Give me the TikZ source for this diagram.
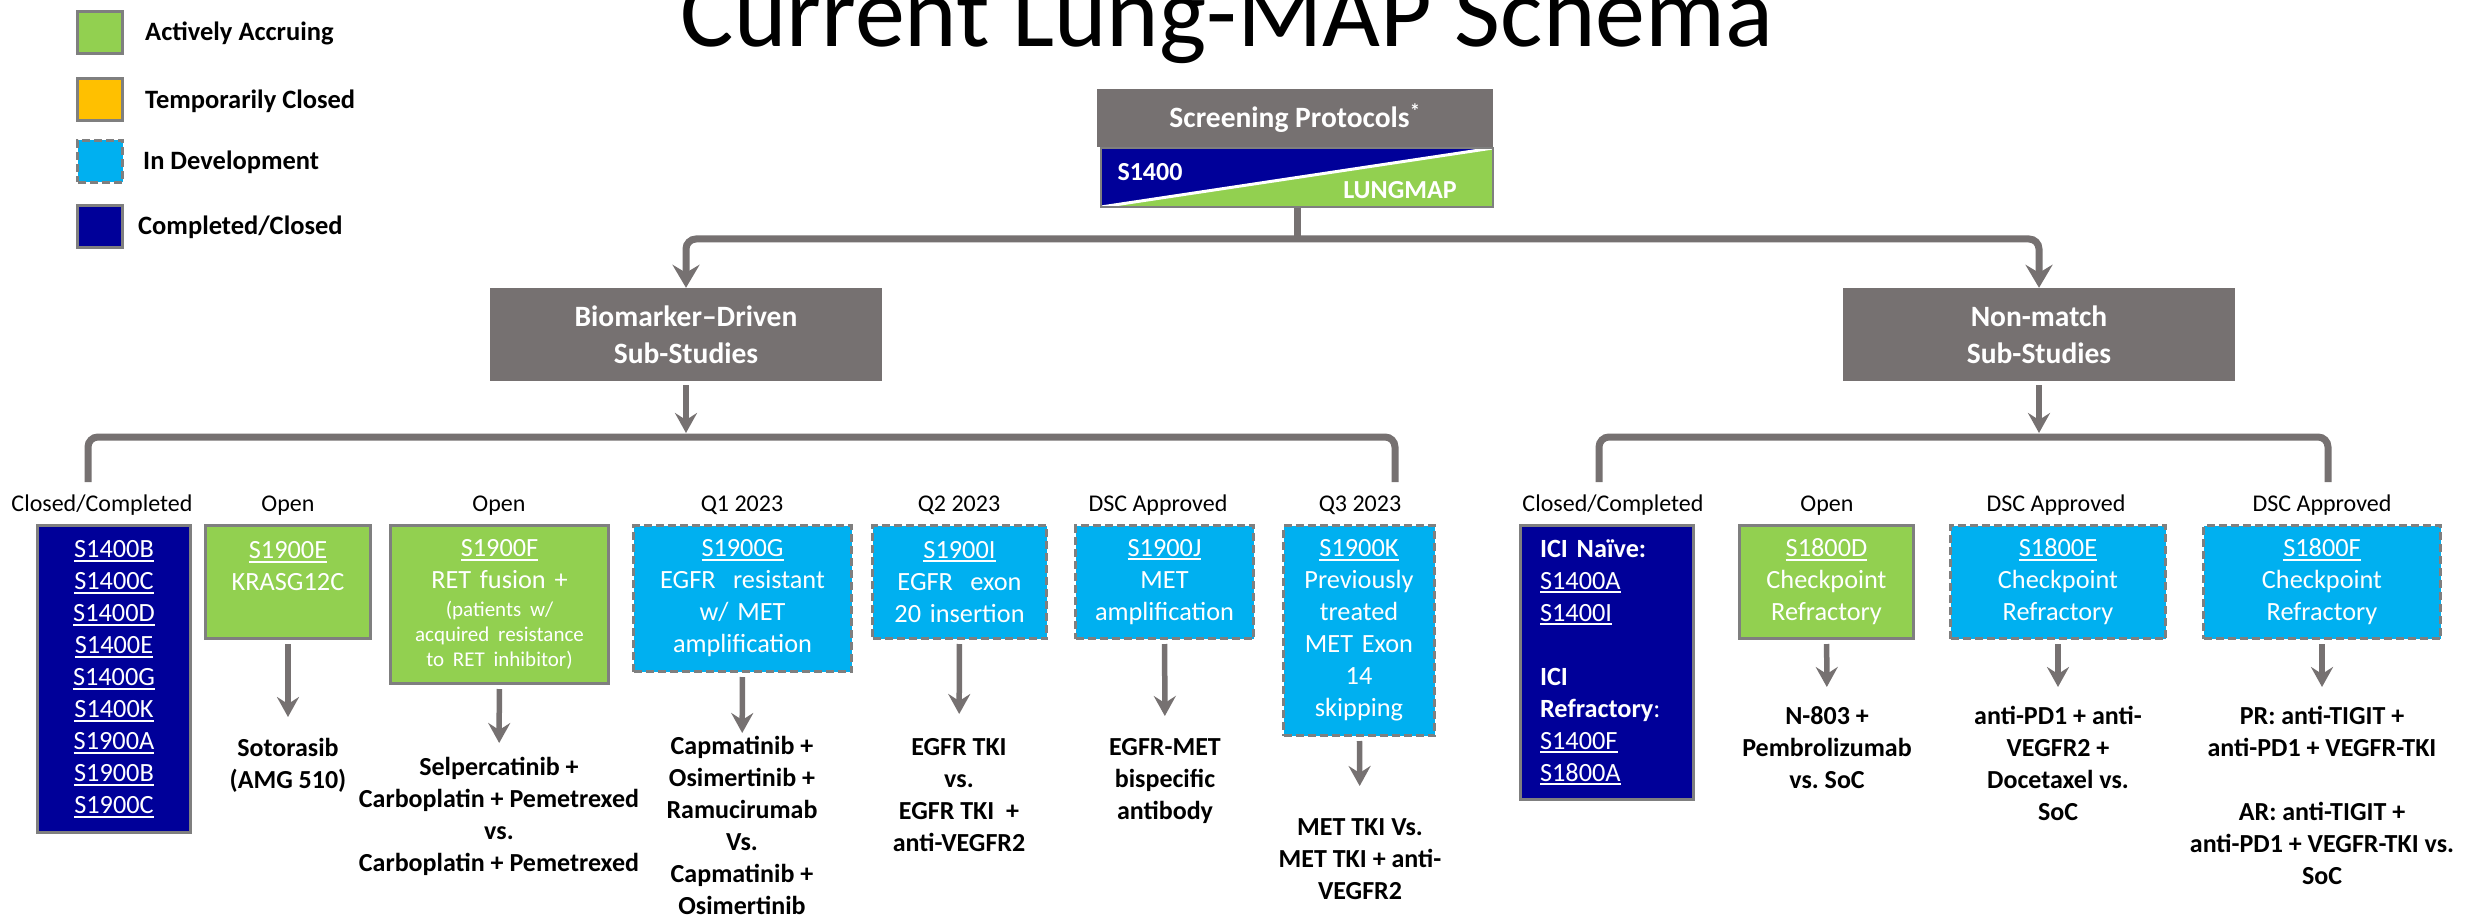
\documentclass[tikz,border=0pt]{standalone}
\usepackage{fontspec}
\setmainfont{Carlito}
\usetikzlibrary{arrows.meta, positioning}
\definecolor{grigio}{HTML}{767171}
\definecolor{bordo}{HTML}{7F7F7F}
\definecolor{blu}{HTML}{000099}
\definecolor{verde}{HTML}{92D050}
\definecolor{ciano}{HTML}{00B0F0}
\definecolor{arancio}{HTML}{FFC000}
\newcommand{\codice}[1]{\leavevmode\setbox0\hbox{#1}\rlap{\rule[-4pt]{\wd0}{2pt}}\box0}
\frenchspacing

\begin{document}
\begin{tikzpicture}[
  x=1pt, y=-1pt,
  titolo/.style={anchor=base, inner sep=0, font=\fontsize{100}{120}\selectfont},
  testata/.style={fill=grigio, text=white, align=center, inner sep=0,
                  font=\bfseries\fontsize{29.5}{37}\selectfont},
  scritta/.style={text=white, inner sep=0, font=\bfseries\fontsize{26}{32}\selectfont},
  diviso/.style={draw=bordo, line width=2pt, inner sep=0,
                 minimum width=392pt, minimum height=59pt,
                 path picture={
                   \fill[verde] (path picture bounding box.south west) -- (path picture bounding box.north east)
                                -- (path picture bounding box.south east) -- cycle;
                   \fill[blu] (path picture bounding box.south west) -- (path picture bounding box.north west)
                              -- (path picture bounding box.north east) -- cycle;
                   \draw[white, line width=3pt] (path picture bounding box.south west)
                              -- (path picture bounding box.north east);}},
  studio/.style={draw=bordo, line width=3pt, anchor=north, align=center, inner sep=0,
                 text=white, font=\fontsize{26.3}{32}\selectfont},
  attivo/.style={fill=verde},
  sospeso/.style={fill=arancio},
  sviluppo/.style={fill=ciano, dash pattern=on 8pt off 4pt},
  chiuso/.style={fill=blu},
  etichetta/.style={anchor=base, inner sep=0, font=\fontsize{24}{29}\selectfont},
  esito/.style={anchor=north, align=center, inner sep=0, font=\bfseries\fontsize{26}{32}\selectfont},
  quadrato/.style={draw=bordo, line width=3pt, minimum width=45pt, minimum height=42pt, inner sep=0},
  legenda/.style={anchor=base west, inner sep=0, font=\bfseries\fontsize{26.5}{32}\selectfont},
  punta/.style={-{Stealth[length=20pt,width=22pt,inset=7pt]}},
  doppia/.style={{Stealth[length=23pt,width=27pt,inset=8pt]}-{Stealth[length=23pt,width=27pt,inset=8pt]}},
  freccia/.style={draw=grigio, line width=5.5pt, punta, shorten <=4pt},
  ramo/.style={draw=grigio, line width=7pt, rounded corners=10pt}
]
\clip (0,0) rectangle (2466,917);
\fill[white] (0,0) rectangle (2466,917);

% legenda
\foreach \i/\s/\y/\xt/\t in {1/attivo/32.5/145/Actively Accruing, 2/sospeso/100/145/Temporarily Closed,
                             3/sviluppo/161.5/143/In Development, 4/chiuso/226.5/138/{Completed/Closed}} {
  \node[quadrato, \s] (Q\i) at (100,\y) {};
  \node[legenda] (L\i) at (\xt,\y+8.5) {\t};
}

% titolo e protocolli di screening
\node[titolo] (TT) at (1227,47) {Current Lung-MAP Schema};
\node[testata, minimum width=396pt, minimum height=58pt] (SP) at (1295,118) {Screening Protocols\textsuperscript{*}};
\node[diviso] (SL) at (1297,177.5) {};
\node[scritta] (S14) at (1150,172) {S1400};
\node[scritta] (LM) at (1400,190) {LUNGMAP};

\node[testata, minimum width=392pt, minimum height=93pt] (BD) at (686,334.5) {Biomarker--Driven\\Sub-Studies};
\node[testata, minimum width=392pt, minimum height=93pt] (NM) at (2039,334.5) {Non-match\\Sub-Studies};

\coordinate (nodo) at (1297,239);
\draw[ramo] (SL) -- (nodo);
\draw[ramo, doppia] (BD) -- (BD |- nodo) -| (NM);

% parentesi dei sotto-studi
\coordinate (LB) at (686,433);
\coordinate (RB) at (2039,433);
\coordinate (LA) at (88,482);
\coordinate (LZ) at (1395,482);
\coordinate (RA) at (1599,482);
\coordinate (RZ) at (2328,482);
\draw[freccia] (BD) -- (LB);
\draw[freccia] (NM) -- (RB);
\draw[ramo] (LA) -- ++(0,-45) -| (LZ);
\draw[ramo] (RA) -- ++(0,-45) -| (RZ);

\foreach \b/\x/\t in {B1/102/{Closed/Completed}, B2/288/Open, B3/499/Open, B4/742/Q1 2023, B5/959/Q2 2023,
                      B6/1158/DSC Approved, B7/1360/Q3 2023, N1/1613/{Closed/Completed}, N2/1827/Open,
                      N3/2056/DSC Approved, N4/2322/DSC Approved}
  \node[etichetta] (T\b) at (\x,511) {\t};

% biomarker
\node[studio, chiuso, text width=153pt, minimum height=307pt] (B1) at (114,524)
  {\codice{S1400B}\\\codice{S1400C}\\\codice{S1400D}\\\codice{S1400E}\\\codice{S1400G}\\\codice{S1400K}\\\codice{S1900A}\\\codice{S1900B}\\\codice{S1900C}};
\node[studio, attivo, text width=165pt, minimum height=113pt] (B2) at (288,524) {\codice{S1900E}\\KRASG12C\\\mbox{}};
\node[studio, attivo, text width=218pt, minimum height=158pt] (B3) at (499.5,524)
  {\codice{S1900F}\\RET fusion +\par\vspace{3pt}{\fontsize{21}{25}\selectfont (patients w/\\acquired resistance\\to RET inhibitor)\par}};
\node[studio, sviluppo, text width=218pt, minimum height=146pt] (B4) at (742.5,524) {\codice{S1900G}\\EGFR~ resistant\\w/ MET\\amplification};
\node[studio, sviluppo, text width=174pt, minimum height=113pt] (B5) at (959.5,524) {\codice{S1900I}\\EGFR~ exon\\20 insertion};
\node[studio, sviluppo, text width=178pt, minimum height=113pt] (B6) at (1164.5,524) {\codice{S1900J}\\MET\\amplification};
\node[studio, sviluppo, text width=151pt, minimum height=210pt] (B7) at (1359,524) {\codice{S1900K}\\Previously\\treated\\MET Exon\\14\\skipping};

% non-match
\node[studio, chiuso, align=left, inner xsep=19.5pt, text width=134pt, minimum height=274pt] (N1) at (1607,524)
  {\textbf{ICI Naïve:}\\\codice{S1400A}\\\codice{S1400I}\\[32pt]\textbf{ICI}\\\textbf{Refractory}:\\\codice{S1400F}\\\codice{S1800A}};
\node[studio, attivo, text width=174pt, minimum height=113pt] (N2) at (1826.5,524) {\codice{S1800D}\\Checkpoint\\Refractory};
\node[studio, sviluppo, text width=215pt, minimum height=113pt] (N3) at (2058,524) {\codice{S1800E}\\Checkpoint\\Refractory};
\node[studio, sviluppo, text width=237pt, minimum height=113pt] (N4) at (2322,524) {\codice{S1800F}\\Checkpoint\\Refractory};

% terapie
\node[esito] (E2) at (288,738) {Sotorasib\\(AMG 510)};
\node[esito] (E3) at (499,757) {Selpercatinib +\\Carboplatin + Pemetrexed\\vs.\\Carboplatin + Pemetrexed};
\node[esito] (E4) at (742,736) {Capmatinib +\\Osimertinib +\\Ramucirumab\\Vs.\\Capmatinib +\\Osimertinib};
\node[esito] (E5) at (959,738) {EGFR TKI\\vs.\\EGFR TKI~ +\\anti-VEGFR2};
\node[esito] (E6) at (1165,738) {EGFR-MET\\bispecific\\antibody};
\node[esito] (E7) at (1360,818) {MET TKI Vs.\\MET TKI + anti-\\VEGFR2};
\node[esito] (M2) at (1827,706) {N-803 +\\Pembrolizumab\\vs. SoC};
\node[esito] (M3) at (2058,706) {anti-PD1 + anti-\\VEGFR2 +\\Docetaxel vs.\\SoC};
\node[esito] (M4) at (2322,706) {PR: anti-TIGIT +\\anti-PD1 + VEGFR-TKI\\[32pt]AR: anti-TIGIT +\\anti-PD1 + VEGFR-TKI vs.\\SoC};

\foreach \b/\e/\g in {B2/E2/21, B3/E3/14, B4/E4/3, B5/E5/24, B6/E6/22, B7/E7/32, N2/M2/19, N3/M3/19, N4/M4/19}
  \draw[freccia, shorten >=\g pt] (\b) -- (\e);

\end{tikzpicture}
\end{document}
